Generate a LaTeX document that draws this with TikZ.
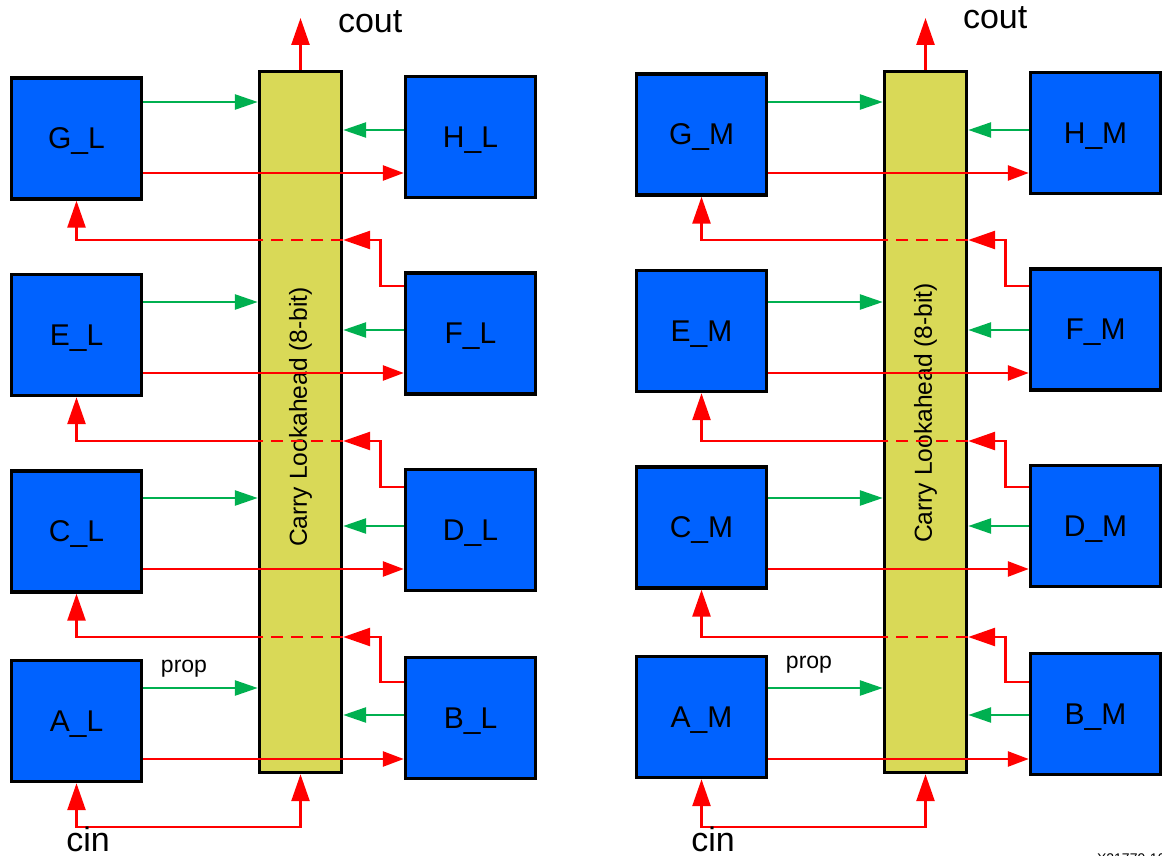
\documentclass[tikz,border=0pt]{standalone}
\usepackage{fontspec}
\setmainfont{Liberation Sans}
\usetikzlibrary{arrows.meta,calc}
\definecolor{blkblue}{RGB}{0,98,255}
\definecolor{clayel}{RGB}{217,217,87}
\definecolor{pgreen}{RGB}{0,176,80}
\tikzset{st/.tip={Triangle[length=10.5pt,width=7.5pt]},
 bt/.tip={Triangle[length=13.5pt,width=9pt]}}

\begin{document}
\begin{tikzpicture}[x=.5pt,y=-.5pt,
 blk/.style={draw,line width=1.7pt,fill=blkblue,minimum width=65pt,minimum height=60.5pt,inner sep=0pt,text depth=0pt,font=\fontsize{15}{18}\selectfont},
 la/.style={draw,line width=1.7pt,fill=clayel,minimum width=41pt,minimum height=350.5pt,inner sep=0pt},
 gs/.style={draw=pgreen,line width=1.3pt,-{Triangle[length=11.5pt,width=7.5pt]}},
 rs/.style={draw=red,line width=1.3pt,-st},
 rb/.style={draw=red,line width=1.3pt,-bt},
 rd/.style={draw=red,line width=1.3pt,dash pattern=on 6pt off 4pt},
 big/.style={font=\fontsize{17}{20}\selectfont}]
\useasboundingbox (0,0) rectangle (1162,856);
% Two identical 8-bit halves, L and M.
\foreach \dx/\dy/\s in {0/0/L,625/-4/M}{
\begin{scope}[shift={(\dx,0)}]
\node[la] (cla\s) at (300.5,422) {};
\node[rotate=90,font=\fontsize{12.3}{15}\selectfont] (clat\s) at (300.5,417+\dy) {Carry Lookahead (8-bit)};
\foreach \lb/\rb/\yl/\yr/\yg/\yq/\yx in {G/H/138.5/137/102/173/130,E/F/335/333.5/302/373/330,C/D/531.5/530/498/569/526,A/B/721/718/688/759/715}{
 \node[blk] (\lb\s) at (76.5,\yl+\dy) {\lb\_\s};
 \node[blk] (\rb\s) at (470.5,\yr+\dy) {\rb\_\s};
 \draw[gs] (\lb\s.east |- 0,\yg) -- (cla\s.west |- 0,\yg);
 \draw[gs] (\rb\s.west |- 0,\yx) -- (cla\s.east |- 0,\yx);
 \draw[rs] (\lb\s.east |- 0,\yq) -- (\rb\s.west |- 0,\yq);
}
% Carry from each right block back to the left block above.
\foreach \fr/\up/\ys/\yv in {F/G/286/240,D/E/487/441,B/C/682/637}{
 \draw[rb] (\fr\s.west |- 0,\ys) -- ++(-23.5,0) |- (cla\s.east |- 0,\yv);
 \draw[rd] (cla\s.east |- 0,\yv) -- (cla\s.west |- 0,\yv);
 \draw[rb] (cla\s.west |- 0,\yv) -| (\up\s.south);
}
\draw[rb] (cla\s.north) -- (cla\s.north |- 0,18);
\node[big,anchor=base west] (cout\s) at (331,33+\dy) {cout};
\coordinate (cin\s) at (190,827);
\draw[rb,bt-bt] (A\s.south) |- (cin\s) -| (cla\s.south);
\node[big,anchor=base,inner ysep=1pt] (cint\s) at (88,851) {cin};
\node[font=\fontsize{11.5}{14}\selectfont,anchor=base] (prop\s) at (184,672+\dy) {prop};
\end{scope}
}
\node[anchor=base west,font=\fontsize{7}{8}\selectfont] (figid) at (1090,863) {X21779-101};
\end{tikzpicture}
\end{document}
